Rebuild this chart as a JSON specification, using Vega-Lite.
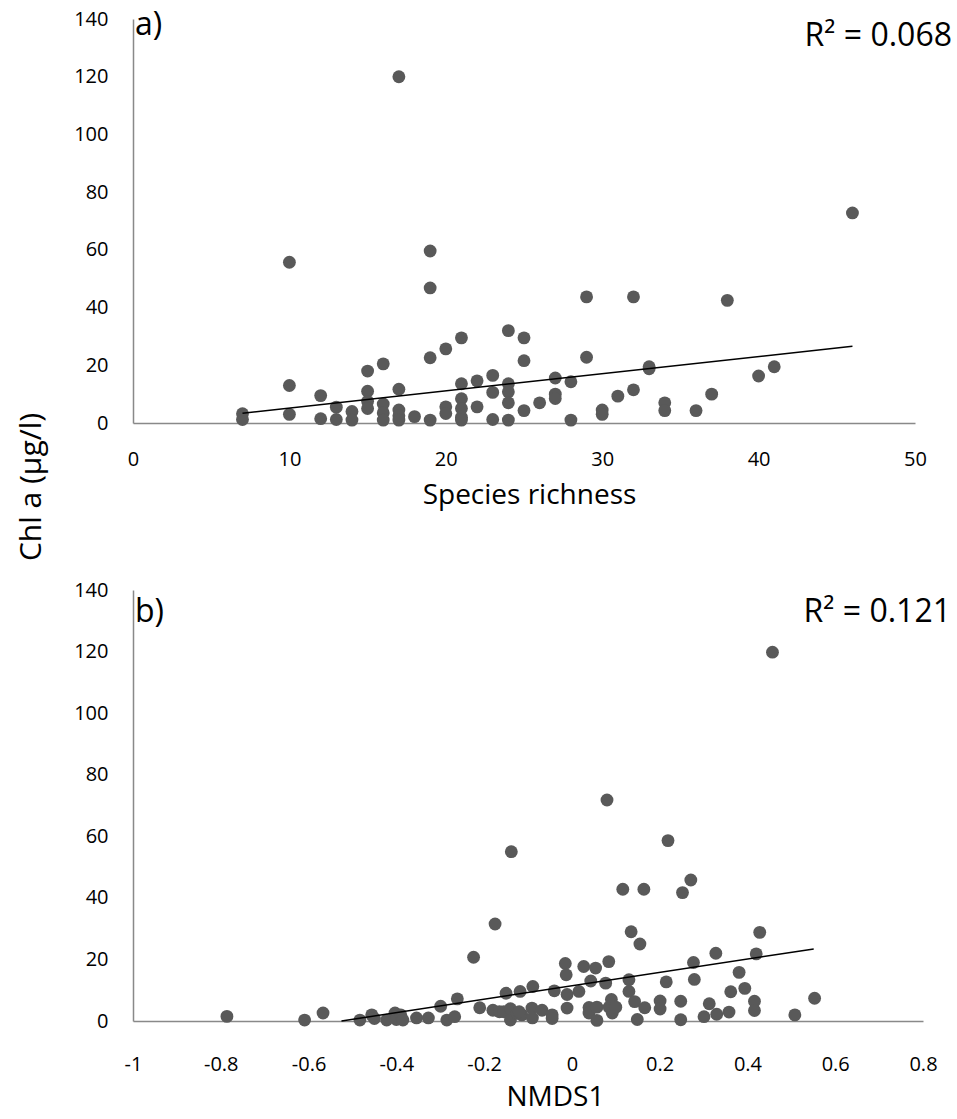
{
  "$schema": "https://vega.github.io/schema/vega-lite/v6.json",
  "padding": {"left": 16, "top": 9, "right": 4, "bottom": 14},
  "background": "white",
  "bounds": "flush",
  "spacing": 167,
  "config": {
    "view": {"stroke": null},
    "axis": {
      "domainColor": "#898989",
      "domainWidth": 1.5,
      "ticks": false,
      "tickSize": 0,
      "grid": false,
      "labelFont": "Open Sans",
      "labelFontSize": 20,
      "labelColor": "#000000",
      "labelFlush": false,
      "labelOverlap": false,
      "titleFont": "Open Sans",
      "titleFontWeight": "normal",
      "titleColor": "#000000"
    }
  },
  "datasets": {
    "a": [
      {"x": 7, "y": 3.2}, {"x": 7, "y": 1.2},
      {"x": 10, "y": 55.7}, {"x": 10, "y": 13}, {"x": 10, "y": 3},
      {"x": 12, "y": 9.5}, {"x": 12, "y": 1.5},
      {"x": 13, "y": 5.5}, {"x": 13, "y": 1.2},
      {"x": 14, "y": 4}, {"x": 14, "y": 1},
      {"x": 15, "y": 18}, {"x": 15, "y": 11}, {"x": 15, "y": 7.5}, {"x": 15, "y": 5},
      {"x": 16, "y": 20.5}, {"x": 16, "y": 6.6}, {"x": 16, "y": 3.5}, {"x": 16, "y": 1},
      {"x": 17, "y": 120}, {"x": 17, "y": 11.7}, {"x": 17, "y": 4.5}, {"x": 17, "y": 2.5}, {"x": 17, "y": 1},
      {"x": 18, "y": 2.2},
      {"x": 19, "y": 59.6}, {"x": 19, "y": 46.8}, {"x": 19, "y": 22.6}, {"x": 19, "y": 1},
      {"x": 20, "y": 25.7}, {"x": 20, "y": 5.6}, {"x": 20, "y": 3.3},
      {"x": 21, "y": 29.5}, {"x": 21, "y": 13.6}, {"x": 21, "y": 8.4}, {"x": 21, "y": 5}, {"x": 21, "y": 2}, {"x": 21, "y": 1},
      {"x": 22, "y": 14.6}, {"x": 22, "y": 5.6},
      {"x": 23, "y": 16.5}, {"x": 23, "y": 10.6}, {"x": 23, "y": 1.2},
      {"x": 24, "y": 32}, {"x": 24, "y": 13.6}, {"x": 24, "y": 10.8}, {"x": 24, "y": 7}, {"x": 24, "y": 1},
      {"x": 25, "y": 29.5}, {"x": 25, "y": 21.6}, {"x": 25, "y": 4.3},
      {"x": 26, "y": 7},
      {"x": 27, "y": 15.6}, {"x": 27, "y": 10}, {"x": 27, "y": 8.5},
      {"x": 28, "y": 14.3}, {"x": 28, "y": 1},
      {"x": 29, "y": 43.7}, {"x": 29, "y": 22.8},
      {"x": 30, "y": 4.5}, {"x": 30, "y": 3},
      {"x": 31, "y": 9.3},
      {"x": 32, "y": 43.7}, {"x": 32, "y": 11.5},
      {"x": 33, "y": 18.8}, {"x": 33, "y": 19.5},
      {"x": 34, "y": 7}, {"x": 34, "y": 4.3},
      {"x": 36, "y": 4.3},
      {"x": 37, "y": 10},
      {"x": 38, "y": 42.5},
      {"x": 40, "y": 16.3},
      {"x": 41, "y": 19.5},
      {"x": 46, "y": 72.8}
    ],
    "ta": [{"x": 7, "y": 3.4}, {"x": 46, "y": 26.6}],
    "b": [
      {"x": -0.786, "y": 1.5}, {"x": -0.609, "y": 0.3}, {"x": -0.567, "y": 2.6},
      {"x": -0.483, "y": 0.3}, {"x": -0.456, "y": 2}, {"x": -0.45, "y": 0.8},
      {"x": -0.422, "y": 0.3}, {"x": -0.403, "y": 2.6}, {"x": -0.4, "y": 0.5},
      {"x": -0.39, "y": 2}, {"x": -0.385, "y": 0.3}, {"x": -0.354, "y": 1},
      {"x": -0.327, "y": 1}, {"x": -0.299, "y": 4.8}, {"x": -0.285, "y": 0.3},
      {"x": -0.267, "y": 1.4}, {"x": -0.261, "y": 7.2}, {"x": -0.224, "y": 20.7},
      {"x": -0.21, "y": 4.3}, {"x": -0.175, "y": 31.5}, {"x": -0.18, "y": 3.5},
      {"x": -0.165, "y": 3}, {"x": -0.155, "y": 3}, {"x": -0.15, "y": 9},
      {"x": -0.14, "y": 0.3}, {"x": -0.138, "y": 55}, {"x": -0.14, "y": 4},
      {"x": -0.125, "y": 2.5}, {"x": -0.118, "y": 9.6}, {"x": -0.114, "y": 2},
      {"x": -0.12, "y": 3}, {"x": -0.089, "y": 11.2}, {"x": -0.091, "y": 4.2},
      {"x": -0.09, "y": 1}, {"x": -0.068, "y": 3.5}, {"x": -0.045, "y": 2},
      {"x": -0.045, "y": 0.8}, {"x": -0.04, "y": 9.8}, {"x": -0.015, "y": 18.7},
      {"x": -0.013, "y": 15}, {"x": -0.011, "y": 8.6}, {"x": -0.011, "y": 4.2},
      {"x": 0.016, "y": 9.6}, {"x": 0.027, "y": 17.7}, {"x": 0.054, "y": 17.2},
      {"x": 0.043, "y": 13}, {"x": 0.039, "y": 4.4}, {"x": 0.039, "y": 2.6},
      {"x": 0.057, "y": 4.5}, {"x": 0.057, "y": 0.2}, {"x": 0.08, "y": 71.8},
      {"x": 0.084, "y": 19.3}, {"x": 0.077, "y": 12.3}, {"x": 0.085, "y": 4.5},
      {"x": 0.09, "y": 7}, {"x": 0.092, "y": 2.6}, {"x": 0.1, "y": 4.5},
      {"x": 0.116, "y": 42.8}, {"x": 0.13, "y": 13.4}, {"x": 0.135, "y": 29},
      {"x": 0.13, "y": 9.6}, {"x": 0.143, "y": 6.3}, {"x": 0.149, "y": 0.5},
      {"x": 0.155, "y": 25}, {"x": 0.164, "y": 42.8}, {"x": 0.166, "y": 4.3},
      {"x": 0.201, "y": 6.5}, {"x": 0.201, "y": 3.9}, {"x": 0.215, "y": 12.7},
      {"x": 0.219, "y": 58.6}, {"x": 0.248, "y": 6.4}, {"x": 0.248, "y": 0.4},
      {"x": 0.252, "y": 41.7}, {"x": 0.271, "y": 45.8}, {"x": 0.277, "y": 19},
      {"x": 0.279, "y": 13.5}, {"x": 0.301, "y": 1.4}, {"x": 0.313, "y": 5.6},
      {"x": 0.328, "y": 22}, {"x": 0.33, "y": 2.2}, {"x": 0.358, "y": 2.9},
      {"x": 0.362, "y": 9.5}, {"x": 0.381, "y": 15.8}, {"x": 0.394, "y": 10.6},
      {"x": 0.416, "y": 6.4}, {"x": 0.416, "y": 3.4}, {"x": 0.42, "y": 21.8},
      {"x": 0.428, "y": 28.8}, {"x": 0.457, "y": 119.8}, {"x": 0.508, "y": 2},
      {"x": 0.553, "y": 7.4}
    ],
    "tb": [{"x": -0.525, "y": 0}, {"x": 0.551, "y": 23.4}]
  },
  "vconcat": [
    {
      "width": 782,
      "height": 404,
      "layer": [
        {
          "data": {"name": "a"},
          "mark": {"type": "circle", "size": 165, "color": "#595959", "opacity": 1},
          "encoding": {
            "x": {
              "field": "x", "type": "quantitative",
              "scale": {"domain": [0, 50], "nice": false, "zero": false},
              "axis": {
                "values": [0, 10, 20, 30, 40, 50],
                "labelBaseline": "alphabetic",
                "labelPadding": 42,
                "title": "Species richness",
                "titleFontSize": 28,
                "titleX": 396,
                "titleY": 80,
                "titleAlign": "center",
                "titleBaseline": "alphabetic"
              }
            },
            "y": {
              "field": "y", "type": "quantitative",
              "scale": {"domain": [0, 140], "nice": false},
              "axis": {
                "values": [0, 20, 40, 60, 80, 100, 120, 140],
                "labelPadding": 25,
                "title": "Chl a (µg/l)",
                "titleFontSize": 30,
                "titleAngle": -90,
                "titleX": -93,
                "titleY": 467.5,
                "titleAlign": "center",
                "titleBaseline": "alphabetic"
              }
            }
          }
        },
        {
          "data": {"name": "ta"},
          "mark": {"type": "line", "color": "#000000", "strokeWidth": 1.5},
          "encoding": {
            "x": {"field": "x", "type": "quantitative"},
            "y": {"field": "y", "type": "quantitative"}
          }
        },
        {
          "data": {"values": [{"t": "a)"}]},
          "mark": {"type": "text", "font": "Open Sans", "fontSize": 32, "align": "left", "baseline": "alphabetic", "dx": 2, "dy": 16, "color": "#000000"},
          "encoding": {
            "x": {"datum": 0, "type": "quantitative"},
            "y": {"datum": 140, "type": "quantitative"},
            "text": {"field": "t", "type": "nominal"}
          }
        },
        {
          "data": {"values": [{"t": "R² = 0.068"}]},
          "mark": {"type": "text", "font": "Open Sans", "fontSize": 32, "align": "right", "baseline": "alphabetic", "dx": 37, "dy": 27, "color": "#000000"},
          "encoding": {
            "x": {"datum": 50, "type": "quantitative"},
            "y": {"datum": 140, "type": "quantitative"},
            "text": {"field": "t", "type": "nominal"}
          }
        }
      ]
    },
    {
      "width": 790,
      "height": 431,
      "layer": [
        {
          "data": {"name": "b"},
          "mark": {"type": "circle", "size": 165, "color": "#595959", "opacity": 1},
          "encoding": {
            "x": {
              "field": "x", "type": "quantitative",
              "scale": {"domain": [-1, 0.8], "nice": false, "zero": false},
              "axis": {
                "values": [-1, -0.8, -0.6, -0.4, -0.2, 0, 0.2, 0.4, 0.6, 0.8],
                "labelExpr": "replace(format(datum.value, '~g'), '−', '-')",
                "labelBaseline": "alphabetic",
                "labelPadding": 49,
                "title": "NMDS1",
                "titleFontSize": 28,
                "titleX": 422,
                "titleY": 84,
                "titleAlign": "center",
                "titleBaseline": "alphabetic"
              }
            },
            "y": {
              "field": "y", "type": "quantitative",
              "scale": {"domain": [0, 140], "nice": false},
              "axis": {
                "values": [0, 20, 40, 60, 80, 100, 120, 140],
                "labelPadding": 25,
                "title": null
              }
            }
          }
        },
        {
          "data": {"name": "tb"},
          "mark": {"type": "line", "color": "#000000", "strokeWidth": 1.5},
          "encoding": {
            "x": {"field": "x", "type": "quantitative"},
            "y": {"field": "y", "type": "quantitative"}
          }
        },
        {
          "data": {"values": [{"t": "b)"}]},
          "mark": {"type": "text", "font": "Open Sans", "fontSize": 32, "align": "left", "baseline": "alphabetic", "dx": 2, "dy": 32, "color": "#000000"},
          "encoding": {
            "x": {"datum": -1, "type": "quantitative"},
            "y": {"datum": 140, "type": "quantitative"},
            "text": {"field": "t", "type": "nominal"}
          }
        },
        {
          "data": {"values": [{"t": "R² = 0.121"}]},
          "mark": {"type": "text", "font": "Open Sans", "fontSize": 32, "align": "right", "baseline": "alphabetic", "dx": 28, "dy": 32, "color": "#000000"},
          "encoding": {
            "x": {"datum": 0.8, "type": "quantitative"},
            "y": {"datum": 140, "type": "quantitative"},
            "text": {"field": "t", "type": "nominal"}
          }
        }
      ]
    }
  ]
}
